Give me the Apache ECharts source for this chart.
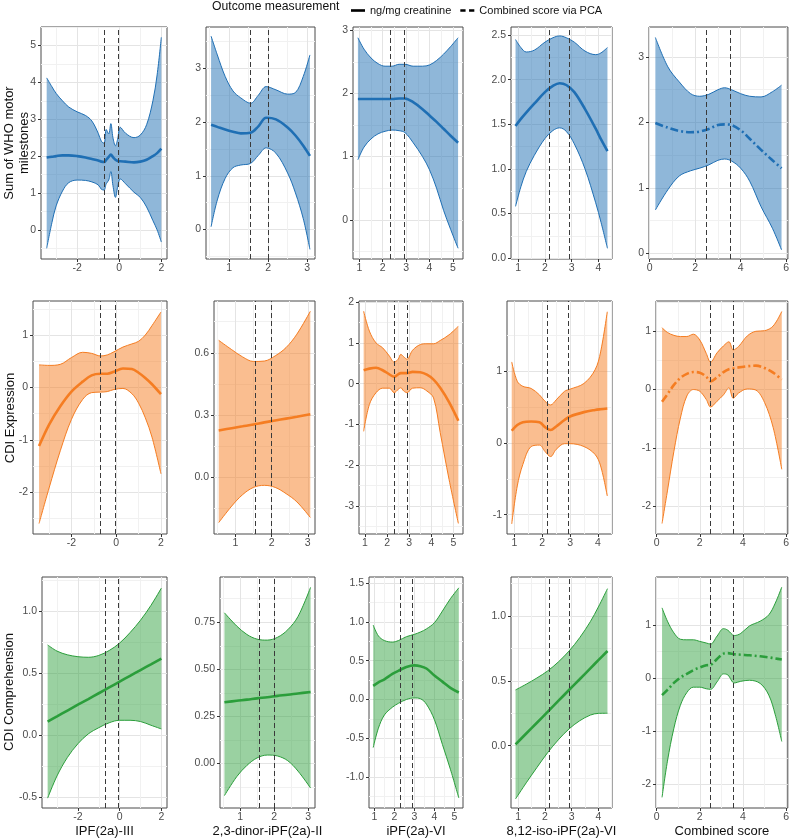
<!DOCTYPE html>
<html>
<head>
<meta charset="utf-8">
<script src="https://cdn.jsdelivr.net/npm/echarts@6/dist/echarts.min.js"></script>
<style>
  html, body { margin: 0; padding: 0; background: #fff; }
  #main { width: 792px; height: 839px; }
</style>
</head>
<body>
<div id="main"></div>
<script>
// ---- labels ----
const xTitles = ['IPF(2a)-III', '2,3-dinor-iPF(2a)-II', 'iPF(2a)-VI', '8,12-iso-iPF(2a)-VI', 'Combined score']
const yTitles = ['Sum of WHO motor\nmilestones', 'CDI Expression', 'CDI Comprehension']
const legendNames = ['ng/mg creatinine', 'Combined score via PCA']

// dashed reference lines per exposure column
const cutoffs = [[-0.7, -0.05], [1.55, 2.0], [2.31, 2.9], [2.18, 2.92], [2.5, 3.55]]

// ---- row 1: Sum of WHO motor milestones ----
const r1c1_x = [-3.45, -3.2, -3.0, -2.7, -2.4, -2.0, -1.6, -1.3, -1.0, -0.85, -0.72, -0.62, -0.5, -0.4, -0.3, -0.18, -0.08, 0.05, 0.3, 0.7, 1.0, 1.3, 1.6, 1.8, 2.0]
const r1c1_fit = [1.96, 1.98, 2.0, 2.02, 2.02, 2.0, 1.96, 1.92, 1.88, 1.85, 1.84, 1.9, 1.98, 2.04, 1.97, 1.9, 1.87, 1.86, 1.85, 1.83, 1.85, 1.9, 2.0, 2.08, 2.2]
const r1c1_lo = [-0.5, 0.2, 0.65, 1.05, 1.28, 1.35, 1.34, 1.3, 1.22, 1.1, 1.08, 1.25, 1.35, 1.58, 1.2, 0.88, 1.15, 1.38, 1.25, 1.02, 0.88, 0.62, 0.25, 0.0, -0.33]
const r1c1_hi = [4.12, 3.88, 3.7, 3.5, 3.33, 3.2, 3.1, 2.95, 2.62, 2.4, 2.35, 2.72, 2.6, 2.88, 2.5, 2.28, 2.45, 2.78, 2.62, 2.5, 2.57, 2.85, 3.5, 4.2, 5.22]

const r1c2_x = [0.54, 0.7, 0.9, 1.1, 1.3, 1.55, 1.75, 1.95, 2.2, 2.5, 2.7, 2.9, 3.07]
const r1c2_fit = [1.95, 1.91, 1.86, 1.82, 1.79, 1.8, 1.92, 2.08, 2.05, 1.9, 1.75, 1.56, 1.37]
const r1c2_lo = [0.05, 0.55, 0.95, 1.15, 1.2, 1.23, 1.38, 1.52, 1.42, 1.05, 0.68, 0.2, -0.37]
const r1c2_hi = [3.6, 3.25, 2.85, 2.58, 2.45, 2.35, 2.5, 2.66, 2.6, 2.52, 2.55, 2.85, 3.25]

const r1c3_x = [0.94, 1.2, 1.5, 1.8, 2.1, 2.4, 2.7, 2.95, 3.3, 3.7, 4.0, 4.3, 4.6, 4.9, 5.22]
const r1c3_fit = [1.91, 1.91, 1.91, 1.91, 1.91, 1.91, 1.92, 1.92, 1.86, 1.75, 1.65, 1.55, 1.44, 1.33, 1.22]
const r1c3_lo = [0.95, 1.15, 1.28, 1.36, 1.4, 1.42, 1.41, 1.38, 1.22, 1.0, 0.79, 0.5, 0.15, -0.15, -0.45]
const r1c3_hi = [2.88, 2.7, 2.56, 2.47, 2.43, 2.43, 2.46, 2.46, 2.43, 2.43, 2.45, 2.52, 2.62, 2.74, 2.88]

const r1c4_x = [0.9, 1.1, 1.3, 1.6, 2.0, 2.3, 2.55, 2.8, 3.1, 3.5, 3.9, 4.1, 4.34]
const r1c4_fit = [1.48, 1.56, 1.63, 1.73, 1.86, 1.93, 1.96, 1.94, 1.86, 1.67, 1.45, 1.33, 1.2]
const r1c4_lo = [0.58, 0.8, 0.97, 1.15, 1.34, 1.43, 1.46, 1.42, 1.28, 1.0, 0.62, 0.4, 0.11]
const r1c4_hi = [2.45, 2.36, 2.31, 2.33, 2.42, 2.47, 2.49, 2.47, 2.42, 2.32, 2.28, 2.3, 2.36]

const r1c5_x = [0.25, 0.8, 1.3, 1.8, 2.2, 2.6, 3.0, 3.3, 3.6, 4.0, 4.4, 4.9, 5.4, 5.8]
const r1c5_fit = [1.99, 1.92, 1.87, 1.85, 1.86, 1.9, 1.96, 1.97, 1.96, 1.88, 1.75, 1.58, 1.42, 1.3]
const r1c5_lo = [0.66, 0.97, 1.18, 1.26, 1.3, 1.35, 1.42, 1.44, 1.41, 1.3, 1.1, 0.71, 0.38, 0.05]
const r1c5_hi = [3.3, 2.85, 2.62, 2.44, 2.4, 2.43, 2.5, 2.53, 2.5, 2.44, 2.4, 2.39, 2.47, 2.57]

// ---- row 2: CDI Expression ----
const r2c1_x = [-3.45, -3.0, -2.5, -2.0, -1.5, -1.1, -0.7, -0.4, -0.1, 0.3, 0.7, 1.0, 1.3, 1.6, 2.0]
const r2c1_fit = [-1.12, -0.71, -0.36, -0.08, 0.11, 0.23, 0.26, 0.26, 0.3, 0.36, 0.35, 0.28, 0.18, 0.06, -0.13]
const r2c1_lo = [-2.6, -1.92, -1.21, -0.61, -0.23, -0.1, -0.09, -0.08, -0.04, -0.02, -0.12, -0.3, -0.58, -0.95, -1.65]
const r2c1_hi = [0.43, 0.42, 0.44, 0.57, 0.67, 0.65, 0.6, 0.62, 0.68, 0.77, 0.83, 0.88, 1.0, 1.18, 1.44]

const r2c2_x = [0.54, 0.9, 1.2, 1.5, 1.8, 2.1, 2.4, 2.7, 3.07]
const r2c2_fit = [0.225, 0.236, 0.245, 0.254, 0.264, 0.273, 0.282, 0.291, 0.303]
const r2c2_lo = [-0.22, -0.14, -0.085, -0.05, -0.04, -0.05, -0.08, -0.12, -0.195]
const r2c2_hi = [0.66, 0.615, 0.58, 0.558, 0.56, 0.585, 0.625, 0.69, 0.8]

const r2c3_x = [0.94, 1.2, 1.5, 1.8, 2.1, 2.32, 2.5, 2.62, 2.75, 2.9, 3.15, 3.5, 3.8, 4.1, 4.4, 4.8, 5.22]
const r2c3_fit = [0.33, 0.37, 0.39, 0.33, 0.23, 0.17, 0.23, 0.26, 0.26, 0.26, 0.29, 0.28, 0.22, 0.1, -0.1, -0.45, -0.91]
const r2c3_lo = [-1.17, -0.51, -0.22, -0.11, -0.11, -0.22, -0.14, -0.1, -0.18, -0.22, -0.11, -0.1, -0.18, -0.35, -1.2, -2.35, -3.43]
const r2c3_hi = [1.78, 1.29, 1.0, 0.88, 0.68, 0.53, 0.6, 0.72, 0.66, 0.6, 0.82, 0.96, 0.98, 0.98, 1.06, 1.2, 1.41]

const r2c4_x = [0.9, 1.1, 1.3, 1.6, 1.9, 2.1, 2.3, 2.5, 2.8, 3.0, 3.5, 3.9, 4.1, 4.34]
const r2c4_fit = [0.17, 0.25, 0.29, 0.3, 0.29, 0.22, 0.18, 0.23, 0.32, 0.37, 0.43, 0.46, 0.47, 0.48]
const r2c4_lo = [-1.13, -0.6, -0.3, -0.05, -0.03, -0.12, -0.19, -0.09, -0.01, -0.01, -0.05, -0.16, -0.32, -0.74]
const r2c4_hi = [1.13, 0.86, 0.79, 0.76, 0.67, 0.58, 0.53, 0.6, 0.72, 0.75, 0.83, 1.02, 1.27, 1.83]

const r2c5_x = [0.25, 0.5, 0.8, 1.1, 1.4, 1.7, 2.0, 2.3, 2.5, 2.8, 3.1, 3.35, 3.55, 3.8, 4.2, 4.6, 5.0, 5.4, 5.8]
const r2c5_fit = [-0.21, -0.08, 0.08, 0.2, 0.27, 0.3, 0.29, 0.22, 0.14, 0.21, 0.3, 0.35, 0.36, 0.38, 0.4, 0.41, 0.37, 0.29, 0.17]
const r2c5_lo = [-2.3, -1.74, -1.06, -0.49, -0.11, 0.0, -0.03, -0.17, -0.3, -0.2, -0.09, 0.03, -0.15, -0.06, 0.01, -0.01, -0.22, -0.65, -1.37]
const r2c5_hi = [1.06, 0.98, 0.93, 0.91, 0.91, 0.95, 0.85, 0.62, 0.47, 0.63, 0.75, 0.82, 0.68, 0.74, 0.92, 1.0, 1.01, 1.09, 1.34]

// ---- row 3: CDI Comprehension ----
const r3c1_x = [-3.45, -3.0, -2.5, -2.0, -1.5, -1.0, -0.5, 0.0, 0.5, 1.0, 1.5, 2.0]
const r3c1_fit = [0.11, 0.152, 0.199, 0.246, 0.292, 0.339, 0.386, 0.433, 0.48, 0.527, 0.573, 0.62]
const r3c1_lo = [-0.51, -0.33, -0.18, -0.07, 0.01, 0.06, 0.1, 0.12, 0.12, 0.11, 0.08, 0.05]
const r3c1_hi = [0.73, 0.68, 0.65, 0.635, 0.63, 0.645, 0.685, 0.745, 0.83, 0.93, 1.05, 1.19]

const r3c2_x = [0.54, 0.9, 1.2, 1.5, 1.8, 2.1, 2.4, 2.7, 3.07]
const r3c2_fit = [0.325, 0.333, 0.339, 0.346, 0.352, 0.359, 0.365, 0.372, 0.38]
const r3c2_lo = [-0.17, -0.07, -0.01, 0.03, 0.045, 0.04, 0.015, -0.04, -0.13]
const r3c2_hi = [0.8, 0.73, 0.685, 0.66, 0.655, 0.67, 0.71, 0.78, 0.935]

const r3c3_x = [0.94, 1.2, 1.5, 1.9, 2.2, 2.6, 3.0, 3.3, 3.6, 4.0, 4.4, 4.8, 5.22]
const r3c3_fit = [0.175, 0.22, 0.26, 0.33, 0.37, 0.42, 0.44, 0.43, 0.4, 0.31, 0.23, 0.15, 0.09]
const r3c3_lo = [-0.62, -0.37, -0.2, -0.1, -0.05, 0.0, 0.02, 0.01, -0.06, -0.26, -0.58, -0.9, -1.27]
const r3c3_hi = [0.96, 0.82, 0.76, 0.74, 0.76, 0.81, 0.84, 0.87, 0.91, 0.99, 1.14, 1.3, 1.44]

const r3c4_x = [0.9, 1.3, 1.7, 2.1, 2.5, 2.9, 3.3, 3.7, 4.0, 4.34]
const r3c4_fit = [0.01, 0.094, 0.177, 0.261, 0.345, 0.429, 0.512, 0.596, 0.659, 0.73]
const r3c4_lo = [-0.41, -0.286, -0.168, -0.054, 0.045, 0.129, 0.192, 0.236, 0.249, 0.25]
const r3c4_hi = [0.43, 0.474, 0.522, 0.576, 0.645, 0.729, 0.832, 0.956, 1.069, 1.21]

const r3c5_x = [0.25, 0.5, 0.8, 1.1, 1.4, 1.7, 2.0, 2.3, 2.5, 2.8, 3.1, 3.3, 3.6, 3.9, 4.3, 4.8, 5.2, 5.5, 5.8]
const r3c5_fit = [-0.32, -0.22, -0.09, 0.01, 0.08, 0.15, 0.2, 0.24, 0.25, 0.36, 0.46, 0.47, 0.45, 0.44, 0.43, 0.41, 0.39, 0.37, 0.35]
const r3c5_lo = [-2.24, -1.56, -0.94, -0.51, -0.27, -0.17, -0.17, -0.2, -0.21, -0.07, 0.08, 0.06, -0.09, -0.06, -0.04, -0.1, -0.32, -0.69, -1.19]
const r3c5_hi = [1.32, 1.07, 0.85, 0.73, 0.72, 0.72, 0.69, 0.66, 0.64, 0.79, 0.93, 0.9, 0.8, 0.84, 0.98, 1.07, 1.19, 1.41, 1.71]

// ---- tick labels ----
const xTicks = [[-2, 0, 2], [1, 2, 3], [1, 2, 3, 4, 5], [1, 2, 3, 4], [0, 2, 4, 6]]
const yTicks = [
  [[0, 1, 2, 3, 4, 5], [0, 1, 2, 3], [0, 1, 2, 3], [0, 0.5, 1, 1.5, 2, 2.5], [0, 1, 2, 3]],
  [[-2, -1, 0, 1], [0, 0.3, 0.6], [-3, -2, -1, 0, 1, 2], [-1, 0, 1], [-2, -1, 0, 1]],
  [[-0.5, 0, 0.5, 1], [0, 0.25, 0.5, 0.75], [-1, -0.5, 0, 0.5, 1, 1.5], [0, 0.5, 1], [-2, -1, 0, 1]]
]
const yDigits = [[0, 0, 0, 1, 0], [0, 1, 0, 0, 0], [1, 2, 1, 1, 0]]

// ---- layout ----
const xRange = [[-3.72, 2.27], [0.41, 3.2], [0.73, 5.43], [0.73, 4.51], [-0.03, 6.08]]
const yRange = [
  [[-0.79, 5.5], [-0.55, 3.77], [-0.62, 3.05], [-0.01, 2.59], [-0.09, 3.46]],
  [[-2.8, 1.65], [-0.275, 0.85], [-3.69, 2.03], [-1.27, 1.98], [-2.48, 1.52]],
  [[-0.59, 1.28], [-0.236, 0.99], [-1.4, 1.58], [-0.48, 1.3], [-2.44, 1.9]]
]
const colRight = [167, 315, 463, 612, 789]
const rowLeft = [[41, 206, 353, 511, 649], [33, 214, 359, 507, 656], [42, 220, 369, 511, 656]]
const rowTop = [27, 301, 577]
const rowHeight = [232, 233, 231]
const lineColor = ['#1f6fb4', '#f57d22', '#2b9e3b']
const fillColor = ['rgba(31,111,180,0.5)', 'rgba(245,125,34,0.5)', 'rgba(43,158,59,0.48)']
const font = 'Liberation Sans, Arial, sans-serif'

const panels = [
  [[r1c1_x, r1c1_fit, r1c1_lo, r1c1_hi], [r1c2_x, r1c2_fit, r1c2_lo, r1c2_hi], [r1c3_x, r1c3_fit, r1c3_lo, r1c3_hi], [r1c4_x, r1c4_fit, r1c4_lo, r1c4_hi], [r1c5_x, r1c5_fit, r1c5_lo, r1c5_hi]],
  [[r2c1_x, r2c1_fit, r2c1_lo, r2c1_hi], [r2c2_x, r2c2_fit, r2c2_lo, r2c2_hi], [r2c3_x, r2c3_fit, r2c3_lo, r2c3_hi], [r2c4_x, r2c4_fit, r2c4_lo, r2c4_hi], [r2c5_x, r2c5_fit, r2c5_lo, r2c5_hi]],
  [[r3c1_x, r3c1_fit, r3c1_lo, r3c1_hi], [r3c2_x, r3c2_fit, r3c2_lo, r3c2_hi], [r3c3_x, r3c3_fit, r3c3_lo, r3c3_hi], [r3c4_x, r3c4_fit, r3c4_lo, r3c4_hi], [r3c5_x, r3c5_fit, r3c5_lo, r3c5_hi]]
]

// minor grid positions halfway between the major ticks
function minorOf(major, range) {
  const step = major[1] - major[0]
  const out = []
  for (let v = major[0] - step / 2; v <= range[1]; v += step) {
    if (v >= range[0]) out.push(+v.toFixed(4))
  }
  return out
}
const pts = (xs, ys) => xs.map((x, k) => [x, ys[k]])
// y first, so the stack adds up the y values (encode maps it back)
const ptsYX = (xs, ys) => xs.map((x, k) => [ys[k], x])

const grid = [], xAxis = [], yAxis = [], xMinor = [], yMinor = [], series = []

for (let r = 0; r < 3; r++) {
  for (let c = 0; c < 5; c++) {
    const i = r * 5 + c
    const [xs, fit, lo, hi] = panels[r][c]
    grid.push({
      left: rowLeft[r][c], top: rowTop[r],
      width: colRight[c] - rowLeft[r][c], height: rowHeight[r],
      show: true, borderColor: '#4a4a4a', borderWidth: 1
    })
    xAxis.push({
      type: 'value', gridIndex: i, min: xRange[c][0], max: xRange[c][1],
      axisLine: { show: false, onZero: false },
      axisTick: { customValues: xTicks[c], length: 3, lineStyle: { color: '#333' } },
      axisLabel: { customValues: xTicks[c], color: '#4d4d4d', fontSize: 10.5, fontFamily: font, margin: 4 },
      splitLine: { show: true, lineStyle: { color: '#e4e4e4', width: 1 } },
      name: r === 2 ? xTitles[c] : '',
      nameLocation: 'middle', nameGap: 17,
      nameTextStyle: { fontSize: 13, color: '#111', fontFamily: font }
    })
    xMinor.push({
      type: 'value', gridIndex: i, min: xRange[c][0], max: xRange[c][1],
      axisLine: { show: false, onZero: false }, axisLabel: { show: false },
      axisTick: { show: false, customValues: minorOf(xTicks[c], xRange[c]) },
      splitLine: { show: true, lineStyle: { color: '#f1f1f1', width: 1 } }
    })
    const d = yDigits[r][c]
    yAxis.push({
      type: 'value', gridIndex: i, min: yRange[r][c][0], max: yRange[r][c][1],
      axisLine: { show: false, onZero: false },
      axisTick: { customValues: yTicks[r][c], length: 3, lineStyle: { color: '#333' } },
      axisLabel: {
        customValues: yTicks[r][c], color: '#4d4d4d', fontSize: 10.5, fontFamily: font, margin: 5,
        formatter: v => v.toFixed(d)
      },
      splitLine: { show: true, lineStyle: { color: '#e4e4e4', width: 1 } }
    })
    yMinor.push({
      type: 'value', gridIndex: i, min: yRange[r][c][0], max: yRange[r][c][1],
      axisLine: { show: false, onZero: false }, axisLabel: { show: false },
      axisTick: { show: false, customValues: minorOf(yTicks[r][c], yRange[r][c]) },
      splitLine: { show: true, lineStyle: { color: '#f1f1f1', width: 1 } }
    })

    const common = { type: 'line', xAxisIndex: i, yAxisIndex: i, symbol: 'none', silent: true, emphasis: { disabled: true } }
    // ribbon: lower bound, then the band width stacked on it
    series.push(Object.assign({}, common, {
      data: ptsYX(xs, lo), encode: { x: 1, y: 0 },
      stack: 'ci' + i, stackStrategy: 'all', smooth: 0.35,
      lineStyle: { color: lineColor[r], width: 1 }, z: 2
    }))
    series.push(Object.assign({}, common, {
      data: ptsYX(xs, hi.map((h, k) => h - lo[k])), encode: { x: 1, y: 0 },
      stack: 'ci' + i, stackStrategy: 'all', smooth: 0.35,
      lineStyle: { color: lineColor[r], width: 1 },
      areaStyle: { color: fillColor[r], opacity: 1 }, z: 2
    }))
    // fitted curve, dot-dash for the PCA combined score
    series.push(Object.assign({}, common, {
      data: pts(xs, fit), smooth: 0.35, z: 3,
      lineStyle: { color: lineColor[r], width: 2.6, type: c === 4 ? [8, 3, 2, 3] : 'solid', cap: 'butt' },
      markLine: {
        silent: true, symbol: ['none', 'none'], label: { show: false },
        lineStyle: { color: '#3a3a3a', type: [5, 3], width: 1 },
        data: cutoffs[c].map(v => ({ xAxis: v }))
      }
    }))
  }
}

// legend-only series
series.push({ name: legendNames[0], type: 'line', data: [], xAxisIndex: 0, yAxisIndex: 0, symbol: 'none', color: '#000' })
series.push({ name: legendNames[1], type: 'line', data: [], xAxisIndex: 0, yAxisIndex: 0, symbol: 'none', color: '#000' })

const chart = echarts.init(document.getElementById('main'), null, { renderer: 'canvas' })
chart.setOption({
  animation: false,
  backgroundColor: '#fff',
  textStyle: { fontFamily: font },
  grid: grid,
  xAxis: xAxis.concat(xMinor),
  yAxis: yAxis.concat(yMinor),
  legend: {
    left: 346, top: 0, itemWidth: 14, itemHeight: 3, itemGap: 9,
    textStyle: { fontSize: 11, color: '#111', fontFamily: font },
    data: [
      { name: legendNames[0], icon: 'path://M0,0h16v3h-16z', itemStyle: { color: '#000' } },
      { name: legendNames[1], icon: 'path://M0,0h6v3h-6zM10,0h6v3h-6z', itemStyle: { color: '#000' } }
    ],
    selectedMode: false
  },
  graphic: [
    {
      type: 'text', x: 212, y: 7,
      style: { text: 'Outcome measurement', fill: '#111', font: '12.2px ' + font, align: 'left', verticalAlign: 'middle', textVerticalAlign: 'middle' }
    },
    {
      type: 'text', x: 17, y: 143, rotation: Math.PI / 2,
      style: { text: yTitles[0], fill: '#111', font: '13px ' + font, lineHeight: 15, align: 'center', verticalAlign: 'middle', textAlign: 'center', textVerticalAlign: 'middle' }
    },
    {
      type: 'text', x: 10, y: 418, rotation: Math.PI / 2,
      style: { text: yTitles[1], fill: '#111', font: '13px ' + font, align: 'center', verticalAlign: 'middle', textAlign: 'center', textVerticalAlign: 'middle' }
    },
    {
      type: 'text', x: 9, y: 692, rotation: Math.PI / 2,
      style: { text: yTitles[2], fill: '#111', font: '13px ' + font, align: 'center', verticalAlign: 'middle', textAlign: 'center', textVerticalAlign: 'middle' }
    }
  ],
  series: series
})
</script>
</body>
</html>
